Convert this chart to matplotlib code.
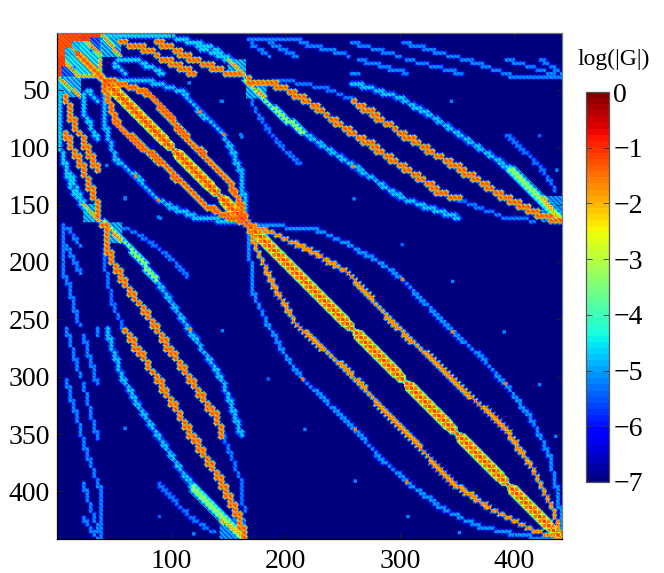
import numpy as np
import matplotlib
matplotlib.use("Agg")
import matplotlib.pyplot as plt

plt.rcParams['font.family'] = ['Liberation Serif', 'DejaVu Serif']
plt.rcParams['axes.unicode_minus'] = True

N = 441
VMIN, VMAX = -7, 0
x_ticks = [100, 200, 300, 400]
y_ticks = [50, 100, 150, 200, 250, 300, 350, 400]
cbar_ticks = [0, -1, -2, -3, -4, -5, -6, -7]
cbar_label = "log(|G|)"

# bands, (col,row) vertices of the upper triangle
# the lower triangle is the mirror image
o33_upper = [(166,167),(189,175),(218,188),(253,208),(276,234),(305,264),(334,290),(363,319),(392,345),(416,380),(433,415),(440,435)]
b33_upper = [(174,167),(227,172),(256,185),(285,202),(302,215),(326,240),(346,261),(369,281),(392,306),(416,339),(430,368),(439,406),(441,438)]
o22_upper = [(44,41),(61,46),(79,53),(93,66),(111,89),(131,110),(151,130),(159,145),(165,164)]
b22_upper = [(53,41),(90,44),(111,53),(125,69),(146,89),(154,104),(162,124),(165,159)]
o23_a = [(166,42),(189,44),(213,56),(236,72),(259,88),(297,113),(335,139),(352,146)]
o23_b = [(259,60),(300,87),(352,119),(393,145),(422,159),(440,165)]
c23_low = [(166,43),(186,63),(215,87)]
b23_low = [(215,87),(259,116),(303,145),(352,162)]
b23_up = [(259,44),(297,56),(326,72),(370,101),(396,119)]
c23_end = [(396,119),(420,142),(440,162)]
b23_top = [(189,41),(213,44),(236,49),(259,59)]
b23_left = [(167,43),(173,66),(186,87),(198,101),(213,116)]
b23_right = [(393,89),(422,116),(437,139)]
b23_tail = [(352,146),(393,162),(419,164)]
o12_a = [(58,9),(73,12),(85,18),(93,24),(105,28),(120,36)]
o12_b = [(89,9),(102,14),(117,23),(128,27),(143,33),(160,37)]
b12_a = [(44,3),(96,3),(114,7),(134,17),(150,24)]
b12_b = [(117,8),(134,12),(152,24),(163,36)]
b12_c = [(55,23),(70,24),(88,33),(92,37)]
b12_d = [(50,27),(61,36)]
b13_segs = [
    [(167,6),(212,5)], [(214,9),(255,20)], [(259,9),(301,21)], [(304,9),(368,27),(397,38)],
    [(265,24),(308,36)], [(307,24),(354,36)], [(259,36),(265,36)], [(397,38),(441,38)],
    [(394,24),(420,32),(440,39)], [(424,24),(440,35)], [(170,10),(186,21)], [(185,9),(211,21)],
]
# single spots (col, row, value)
spots = [(302,185,-5.4),(346,217,-5.2),(391,261,-5.2),(422,307,-5.2),(436,352,-5.2),(346,261,-1.6),(392,306,-1.6),
         (260,145,-5.2),(345,60,-5.2),(422,90,-5.4),(437,120,-5.2),(259,117,-1.6),(144,60,-5.2),(162,91,-5.2),
         (60,145,-5.2),(89,146,-5.2),(89,161,-5.2),(44,116,-5.2),(125,69,-1.6),(146,89,-1.6),(302,215,-1.6),(259,36,-5.2)]
# diagonal blocks: positions along the diagonal, half widths there
diag22_pos = [40,50,95,100,102,106,135,140,142,146,160,165]
diag22_hw = [5,6,6,5,2,6,6,5,2,6,6,4]
diag33_pos = [166,175,253,257,259,263,298,302,304,308,343,347,349,353,388,392,394,398,430,441]
diag33_hw = [3,6,6,5,1.5,6,6,5,1.5,6,6,5,1.5,6,6,5,1.5,6,6,4]
# filled rectangles: col0,col1,row0,row1,value
fills = [(1,39,1,39,-4.0),(1,38,1,7,-0.9),(1,20,1,20,-1.0),(8,16,14,20,-4.2),(40,56,2,21,-4.4),(150,165,24,38,-4.4),
         (166,183,43,57,-4.4),(424,441,143,165,-4.6),(5,16,30,38,-5.0)]
sharp = [[(1,1),(39,39)],[(20,1),(39,20)],[(22,38),(39,38)],[(40,2),(56,21)],[(150,24),(165,38)],[(166,43),(183,57)],[(424,143),(441,165)]]
wide11 = [[(21,21),(38,38)]]


def stamp(G, c, r, level, hw, drop, step, halo):
    c0, r0 = int(round(c/step)*step), int(round(r/step)*step)
    k = int(np.ceil(hw))+1
    for rr in range(max(r0-k,1), min(r0+k,N)+1):
        for cc in range(max(c0-k,1), min(c0+k,N)+1):
            d = np.hypot(rr-r0, cc-c0)
            if d > hw+1.2:
                continue
            m = (rr*3+cc*5) % 4
            if d <= hw:
                v = level-drop*d/max(hw,1)-0.18*m
            elif m < 2:
                v = halo-0.4*m
            else:
                v = halo-1.0
            if v > G[rr-1,cc-1]:
                G[rr-1,cc-1] = v
                G[cc-1,rr-1] = max(G[cc-1,rr-1], v)


def band(G, pts, level, hw, drop=0.8, step=3, halo=-4.8):
    pts = np.array(pts, dtype=float)
    seg = np.hypot(*np.diff(pts, axis=0).T)
    s = np.r_[0, np.cumsum(seg)]
    for t in np.arange(0, s[-1]+0.1, step/2):
        c = np.interp(t, s, pts[:,0])
        r = np.interp(t, s, pts[:,1])
        stamp(G, c, r, level, hw, drop, step, halo)


def paint_diag(G, pos, hws, hatch):
    for rr in range(pos[0], pos[-1]+1):
        for cc in range(pos[0], pos[-1]+1):
            q = abs(rr-cc)
            if q > 10:
                continue
            w = np.interp((rr+cc)/2, pos, hws)
            if q <= w:
                v = -1.0-0.8*q/max(w,1)
                if rr % 4 == 0 or cc % 4 == 0:
                    v -= hatch
                if q == 0:
                    v = -1.0
            elif q <= w+1:
                v = -4.4
            else:
                continue
            G[rr-1,cc-1] = max(G[rr-1,cc-1], v)


def build_matrix():
    G = np.full((N,N), float(VMIN))
    for c0, c1, r0, r1, v in fills:
        f = 0.4 if v < -3 else 0.15
        for rr in range(r0, r1+1):
            for cc in range(c0, c1+1):
                w = v-f*((rr*3+cc*5) % 4)
                G[rr-1,cc-1] = w
                G[cc-1,rr-1] = w
    for p in wide11:
        band(G, p, -0.9, 3.5, 1.2, 3)
    for p in sharp:
        band(G, p, -1.1, 1.2, 1.0, 2)
    band(G, o33_upper, -1.0, 1.7, 0.8, 3)
    band(G, b33_upper, -4.6, 1.8, 0.5, 3, -5.8)
    band(G, o22_upper, -0.9, 2.4, 0.7, 3)
    band(G, b22_upper, -4.3, 2.2, 0.6, 3, -5.6)
    band(G, o23_a, -0.9, 2.4, 0.7, 4)
    band(G, o23_b, -0.9, 2.4, 0.7, 4)
    band(G, c23_low, -2.3, 2.2, 2.2, 3)
    band(G, b23_low, -4.3, 2.2, 0.6, 3, -5.6)
    band(G, b23_up, -4.3, 2.2, 0.6, 3, -5.6)
    band(G, c23_end, -2.3, 3, 2.4, 3)
    for p in [b23_top, b23_left, b23_right, b23_tail]:
        band(G, p, -4.8, 1.6, 0.4, 3, -5.8)
    band(G, o12_a, -0.9, 2.4, 0.7, 4)
    band(G, o12_b, -0.9, 2.4, 0.7, 4)
    for p in [b12_a, b12_b, b12_c, b12_d]:
        band(G, p, -4.2, 2.2, 0.6, 3, -5.6)
    for p in b13_segs:
        band(G, p, -4.7, 1.5, 0.4, 3, -5.8)
    paint_diag(G, diag22_pos, diag22_hw, 0.9)
    paint_diag(G, diag33_pos, diag33_hw, 1.3)
    for c, r, v in spots:
        for rr in range(r-1, r+2):
            for cc in range(c-1, c+2):
                if rr <= N and cc <= N:
                    G[rr-1,cc-1] = max(G[rr-1,cc-1], v)
                    G[cc-1,rr-1] = max(G[cc-1,rr-1], v)
    return np.clip(G, VMIN, VMAX)


G = build_matrix()
cmap = plt.get_cmap('jet', 64)

W, H = 664, 573
fig = plt.figure(figsize=(W/100, H/100), dpi=100)
ax = fig.add_axes([57/W, 1-539/H, 505/W, 506/H])
im = ax.imshow(G, cmap=cmap, vmin=VMIN, vmax=VMAX, extent=[0.5,N+0.5,N+0.5,0.5], aspect='auto')
ax.set_xticks(x_ticks)
ax.set_yticks(y_ticks)
ax.tick_params(direction='in', length=4, width=0.6, top=True, right=True, labelsize=20, color='#222222')
ax.tick_params(axis='x', pad=7)
ax.tick_params(axis='y', pad=5)
for k in ['top','right']:
    ax.spines[k].set_color('#777777')
for s in ax.spines.values():
    s.set_linewidth(0.9)

cax = fig.add_axes([586/W, 1-482/H, 23/W, 390/H])
cb = fig.colorbar(im, cax=cax)
cb.set_ticks(cbar_ticks)
cb.ax.tick_params(direction='in', length=4, width=0.6, labelsize=20, pad=3, left=True, right=True, color='#333333')
cb.outline.set_linewidth(0.9)
cb.outline.set_edgecolor('#555555')
fig.text(614/W, 1-59/H, cbar_label, fontsize=17, ha='center', va='center')

fig.savefig('out.png', dpi=100)
